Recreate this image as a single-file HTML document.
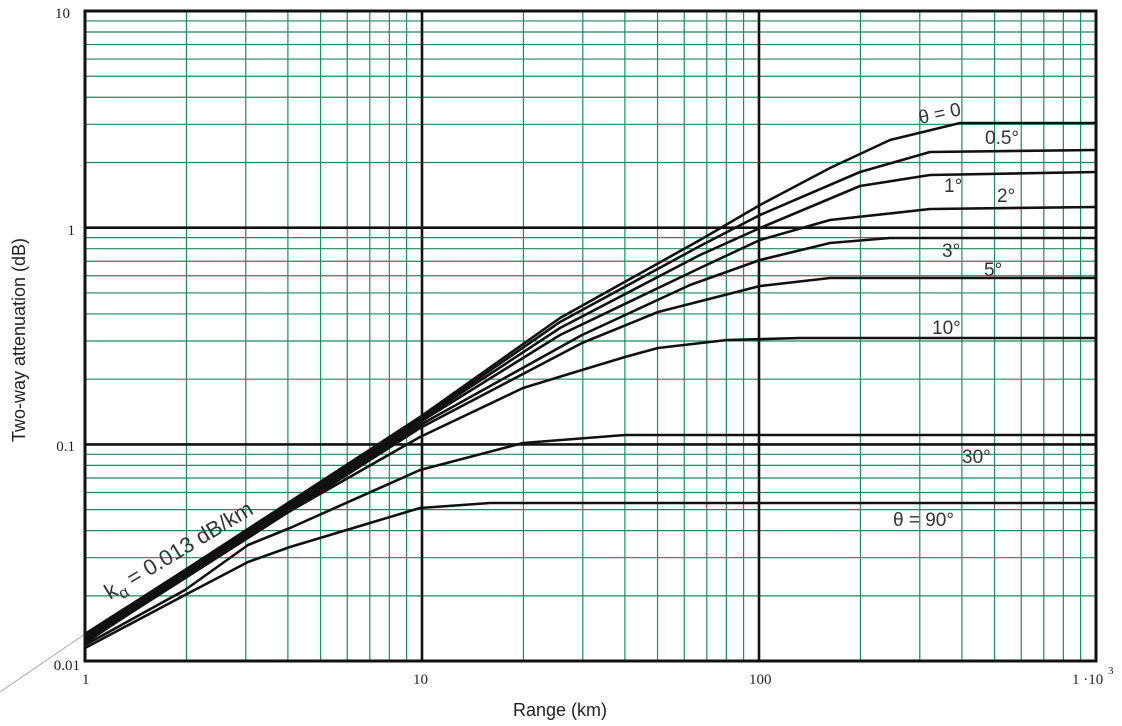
<!DOCTYPE html>
<html><head><meta charset="utf-8"><style>
html,body{margin:0;padding:0;background:#fff;}
svg{display:block;}
</style></head><body>
<svg id="s" width="1122" height="726" xmlns="http://www.w3.org/2000/svg">
<line x1="0" y1="692" x2="85" y2="634" stroke="#999" stroke-width="0.8"/>
<g id="grid"></g>
<g id="curves" fill="none" stroke="#111" stroke-width="2.6" stroke-linejoin="round"></g>
<rect x="85" y="11" width="1011" height="650" fill="none" stroke="#111" stroke-width="3"/>
<g font-family="Liberation Serif, serif" font-size="15" fill="#222">
<text x="70" y="18" text-anchor="end">10</text>
<text x="75" y="235" text-anchor="end">1</text>
<text x="75" y="451" text-anchor="end">0.1</text>
<text x="80" y="670" text-anchor="end">0.01</text>
<text x="82" y="684">1</text>
<text x="413" y="684">10</text>
<text x="749" y="684">100</text>
<text x="1072" y="684">1 ·10</text>
<text x="1108" y="674" font-size="11">3</text>
</g>
<g font-family="Liberation Sans, sans-serif" fill="#222">
<text x="560" y="716" font-size="18" text-anchor="middle">Range (km)</text>
<text transform="translate(25,340) rotate(-90)" font-size="18" text-anchor="middle">Two-way attenuation (dB)</text>
<g font-size="19" fill="#333">
<text transform="translate(920,124) rotate(-12)">θ = 0</text>
<text x="985" y="144">0.5°</text>
<text x="944" y="192">1°</text>
<text x="997" y="202">2°</text>
<text x="942" y="257">3°</text>
<text x="984" y="276">5°</text>
<text x="932" y="334">10°</text>
<text x="962" y="463">30°</text>
<text x="893" y="526">θ = 90°</text>
<text transform="translate(110,600) rotate(-31)" font-size="22">k<tspan font-size="16" dy="6">α</tspan><tspan dy="-6"> = 0.013 dB/km</tspan></text>
</g>
</g>
</svg>
<script>
var NS="http://www.w3.org/2000/svg";
var g=document.getElementById('grid');
function X(v){return 85+337*Math.log10(v);}
function Y(v){return 11+216.7*(1-Math.log10(v));}
function ln(x1,y1,x2,y2,c,w,p){var l=document.createElementNS(NS,'line');l.setAttribute('x1',x1);l.setAttribute('y1',y1);l.setAttribute('x2',x2);l.setAttribute('y2',y2);l.setAttribute('stroke',c);l.setAttribute('stroke-width',w);p.appendChild(l);}
for(var d=1;d<1000;d*=10){for(var k=2;k<10;k++){var x=X(d*k);ln(x,11,x,661,'#1f8a5c',1.2,g);}}
for(var d=0.01;d<10;d*=10){for(var k=2;k<10;k++){var y=Y(d*k);ln(85,y,1096,y,'#1f8a5c',1.2,g);}}
[10,100].forEach(function(v){ln(X(v),11,X(v),661,'#111',2.6,g);});
[1,0.1].forEach(function(v){ln(85,Y(v),1096,Y(v),'#111',2.6,g);});
var C=[
[[85,634],[185,570],[420,417],[560,318],[700,240],[760,205],[830,168],[890,140],[960,123],[1097,123]],
[[85,636],[420,419],[560,322],[700,246],[760,215],[860,172],[930,152],[1097,150]],
[[85,638],[420,420],[560,328],[700,255],[760,228],[860,186],[930,175],[1097,172]],
[[85,640],[420,422],[560,335],[700,268],[760,240],[830,220],[930,209],[1097,207]],
[[85,641],[420,425],[582,335],[690,285],[760,260],[830,243],[890,238],[1097,238]],
[[85,642],[420,428],[582,343],[658,312],[760,286],[830,278],[1097,278]],
[[85,643],[248,535],[420,437],[523,388],[582,370],[625,357],[658,348],[727,340],[800,338],[1097,338]],
[[85,645],[185,590],[248,545],[290,528],[420,470],[523,443],[625,435],[1097,435]],
[[85,648],[185,595],[248,562],[290,547],[420,508],[490,503],[1097,503]]];
var cg=document.getElementById('curves');
C.forEach(function(p){var e=document.createElementNS(NS,'polyline');e.setAttribute('points',p.map(function(q){return q.join(',')}).join(' '));cg.appendChild(e);});
</script>
</body></html>
